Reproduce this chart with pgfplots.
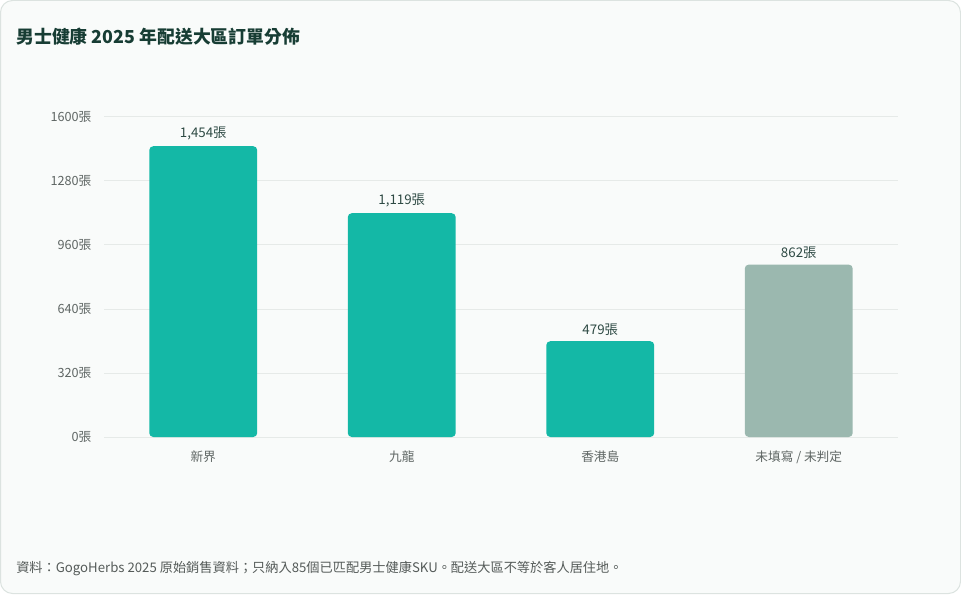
\documentclass[border=0pt]{standalone}
\usepackage{fontspec}
\usepackage{pgfplots}
\pgfplotsset{compat=1.18}
\setmainfont{Noto Sans CJK TC}
\newfontfamily\cjk{Noto Sans CJK TC}

\definecolor{card}{HTML}{F9FBFA}
\definecolor{cardline}{HTML}{DCE3E0}
\definecolor{titlec}{HTML}{173D34}
\definecolor{teal}{HTML}{14B8A6}
\definecolor{sage}{HTML}{9BB8AF}
\definecolor{gridc}{HTML}{E6EAE8}
\definecolor{tickc}{HTML}{5F6664}
\definecolor{valc}{HTML}{2E4A44}
\definecolor{notec}{HTML}{555B59}

\begin{document}
\begin{tikzpicture}[x=0.75pt,y=0.75pt]
\useasboundingbox (0,0) rectangle (961,594);
\draw[fill=card,draw=cardline,line width=0.75pt,rounded corners=9pt] (0.5,0.5) rectangle (960.5,593.5);
\node[anchor=west,font=\cjk\bfseries\fontsize{13.4pt}{15pt}\selectfont,text=titlec,inner sep=0pt] at (16,557) {男士健康 2025 年配送大區訂單分佈};
\node[anchor=west,font=\cjk\fontsize{9.9pt}{11pt}\selectfont,text=notec,inner sep=0pt] at (16,25) {資料：GogoHerbs 2025 原始銷售資料；只納入85個已匹配男士健康SKU。配送大區不等於客人居住地。};

\begin{axis}[
at={(78pt,117.75pt)}, anchor=south west,
scale only axis,
width=595.5pt, height=240pt,
ybar, bar shift=0pt, bar width=0.544,
xmin=-0.5, xmax=3.5,
ymin=0, ymax=1600,
ytick={0,320,640,960,1280,1600},
xtick={0,1,2,3},
xticklabels={新界,九龍,香港島,未填寫 / 未判定},
axis line style={draw=none},
major tick length=0pt,
ymajorgrids, grid style={gridc, line width=0.75pt},
/pgf/number format/assume math mode=true,
/pgf/number format/1000 sep={},
yticklabel={\pgfmathprintnumber{\tick}張},
tick label style={font=\cjk\fontsize{9.5pt}{11pt}\selectfont, text=tickc},
xticklabel style={yshift=-7pt},
yticklabel style={xshift=-6pt},
nodes near coords={\pgfmathprintnumber[1000 sep={,}]{\pgfplotspointmeta}張},
nodes near coords style={font=\cjk\fontsize{10pt}{12pt}\selectfont, text=valc, yshift=1pt},
clip=false,
]
\addplot[fill=teal, draw=none, rounded corners=3pt] coordinates {(0,1454) (1,1119) (2,479)};
\addplot[fill=sage, draw=none, rounded corners=3pt] coordinates {(3,862)};
\end{axis}
\end{tikzpicture}
\end{document}
